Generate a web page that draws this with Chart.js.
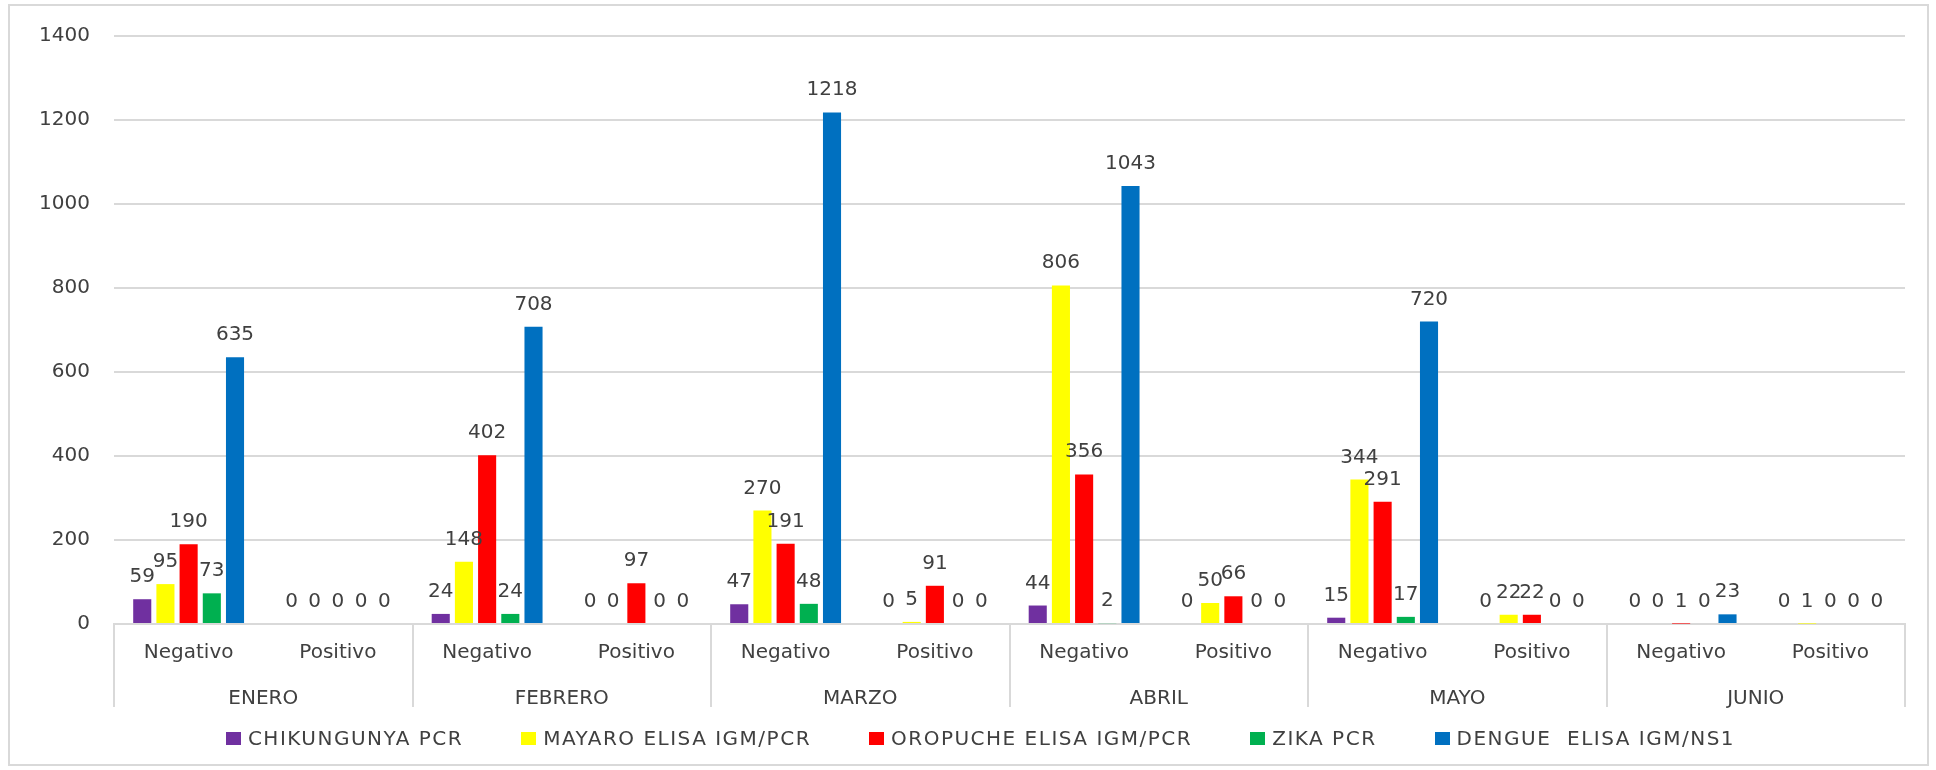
<!DOCTYPE html>
<html>
<head>
<meta charset="utf-8">
<script src="https://cdn.jsdelivr.net/npm/chart.js@4.4.1/dist/chart.umd.min.js"></script>
<style>
  body { margin: 0; background: #fff; }
  #wrap { position: relative; width: 1936px; height: 770px; overflow: hidden; }
  #chart { position: absolute; left: 0; top: 0; }
  #frame { position: absolute; left: 8px; top: 4px; width: 1921px; height: 762px;
           box-sizing: border-box; border: 2px solid #d9d9d9; pointer-events: none; }
  #legend { position: absolute; left: 25px; top: 727px; width: 1911px;
            display: flex; justify-content: center; gap: 58px;
            font: 20px "DejaVu Sans", sans-serif; letter-spacing: 1.5px; color: #404040; line-height: 22px; }
  #legend span.item { display: flex; align-items: center; white-space: pre; }
  #legend span.box { display: inline-block; width: 15px; height: 13px; margin-right: 7px; }
</style>
</head>
<body>
<div id="wrap">
  <canvas id="chart" width="1936" height="770"></canvas>
  <div id="frame"></div>
  <div id="legend"></div>
</div>
<script>
// Months and result groups (two-level category axis)
const months = ['ENERO', 'FEBRERO', 'MARZO', 'ABRIL', 'MAYO', 'JUNIO'];
const results = ['Negativo', 'Positivo'];

// values: Negativo, Positivo for each month in order
const chikungunya = [59, 0, 24, 0, 47, 0, 44, 0, 15, 0, 0, 0];
const mayaro      = [95, 0, 148, 0, 270, 5, 806, 50, 344, 22, 0, 1];
const oropuche    = [190, 0, 402, 97, 191, 91, 356, 66, 291, 22, 1, 0];
const zika        = [73, 0, 24, 0, 48, 0, 2, 0, 17, 0, 0, 0];
const dengue      = [635, 0, 708, 0, 1218, 0, 1043, 0, 720, 0, 23, 0];

const seriesNames  = ['CHIKUNGUNYA PCR', 'MAYARO ELISA IGM/PCR', 'OROPUCHE ELISA IGM/PCR', 'ZIKA PCR', 'DENGUE  ELISA IGM/NS1'];
const seriesColors = ['#7030a0', '#ffff00', '#ff0000', '#00b050', '#0070c0'];
const seriesValues = [chikungunya, mayaro, oropuche, zika, dengue];

const yTicks = { min: 0, max: 1400, step: 200 };

const labels = months.flatMap(() => results);
const FONT = '"DejaVu Sans", sans-serif';
const GRID = '#d9d9d9';
const TEXT = '#404040';

// value labels above every bar (zeros included, like the original)
const valueLabels = {
  id: 'valueLabels',
  afterDatasetsDraw(chart) {
    const ctx = chart.ctx;
    ctx.save();
    ctx.font = '20px ' + FONT;
    ctx.fillStyle = TEXT;
    ctx.textAlign = 'center';
    ctx.textBaseline = 'alphabetic';
    chart.data.datasets.forEach((ds, i) => {
      chart.getDatasetMeta(i).data.forEach((bar, j) => {
        ctx.fillText(String(ds.data[j]), bar.x, bar.y - 17);
      });
    });
    ctx.restore();
  }
};

const chart = new Chart(document.getElementById('chart'), {
  type: 'bar',
  data: {
    labels: labels,
    datasets: seriesNames.map((name, i) => ({
      label: name,
      data: seriesValues[i],
      backgroundColor: seriesColors[i],
      borderWidth: 0,
      barPercentage: 0.78,
      categoryPercentage: 0.777
    }))
  },
  options: {
    responsive: false,
    animation: false,
    layout: { padding: { top: 31, left: 0, right: 31, bottom: 41 } },
    plugins: { legend: { display: false }, tooltip: { enabled: false } },
    scales: {
      y: {
        min: yTicks.min, max: yTicks.max,
        ticks: { stepSize: yTicks.step, padding: 24, color: TEXT, font: { family: FONT, size: 20 },
                 callback: v => String(v) },
        grid: { color: GRID, lineWidth: 2, drawTicks: false },
        border: { display: false },
        afterFit: s => { s.width = 114; }
      },
      x: {
        weight: 0,
        offset: true,
        ticks: { autoSkip: false, maxRotation: 0, padding: -28, color: TEXT, font: { family: FONT, size: 20 } },
        grid: {
          offset: true, drawOnChartArea: false, drawTicks: true, tickLength: 45, lineWidth: 2,
          // only the month boundaries (every second category edge, plus the closing edge)
          color: c => (c.index === undefined || c.index % 2 === 0 ? GRID : 'rgba(0,0,0,0)')
        },
        border: { display: true, color: GRID, width: 2 },
        afterFit: s => { s.height = 45; }
      },
      x2: {
        type: 'category',
        position: 'bottom',
        weight: 1,
        labels: months,
        offset: true,
        ticks: { autoSkip: false, maxRotation: 0, padding: -20, color: TEXT, font: { family: FONT, size: 20 } },
        grid: { offset: true, drawOnChartArea: false, drawTicks: true, tickLength: 38, lineWidth: 2, color: GRID },
        border: { display: false },
        afterFit: s => { s.height = 60; }
      }
    }
  },
  plugins: [valueLabels]
});

// legend as html below the axes
const legend = document.getElementById('legend');
chart.data.datasets.forEach(ds => {
  const item = document.createElement('span');
  item.className = 'item';
  const box = document.createElement('span');
  box.className = 'box';
  box.style.background = ds.backgroundColor;
  item.appendChild(box);
  item.appendChild(document.createTextNode(ds.label));
  legend.appendChild(item);
});
</script>
</body>
</html>
